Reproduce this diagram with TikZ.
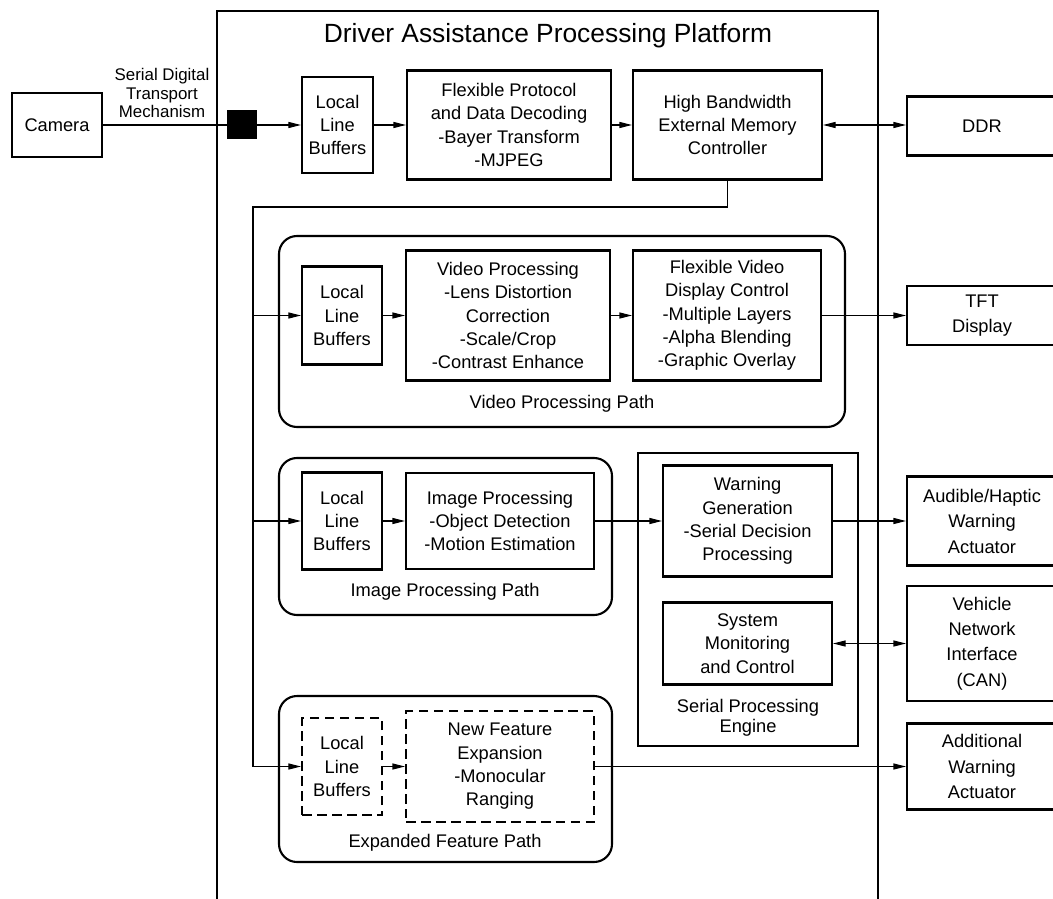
\documentclass[tikz,border=0pt]{standalone}
\usepackage{fontspec}
\setmainfont{Liberation Sans}
\usetikzlibrary{arrows.meta}

\begin{document}
\begin{tikzpicture}[x=0.02cm,y=-0.02cm,font=\fontsize{10.4}{13.3}\selectfont,
    blk/.style={draw,line width=1.2pt,align=center,inner sep=0pt},
    dblk/.style={blk,dash pattern=on 1.9mm off 1.1mm},
    grp/.style={draw,line width=1.2pt,rounded corners=3.6mm},
    outer/.style={font=\fontsize{10.4}{14.5}\selectfont},
    wire/.style={line width=0.6pt},
    flow/.style={wire,-{Triangle[length=2.5mm,width=1.2mm]}},
    both/.style={wire,{Triangle[length=2.5mm,width=1.2mm]}-{Triangle[length=2.5mm,width=1.2mm]}}]
    \clip (0,0) rectangle (1053,898);
    \useasboundingbox (0,0) rectangle (1053,898);
    % platform frame, open at the bottom
    \draw[line width=1.2pt] (217,905) -- (217,11) -- (878,11) -- (878,905);
    \node[font=\fontsize{15}{17}\selectfont] (title) at (548,36) {Driver Assistance Processing Platform};
    % processing paths
    \draw[grp] (279,236) rectangle (845,427);
    \node (vpp) at (562,404) {Video Processing Path};
    \draw[grp] (279,458) rectangle (612,615);
    \node (ipp) at (445,592) {Image Processing Path};
    \draw[grp] (279,696) rectangle (612,862);
    \node (efp) at (445,843) {Expanded Feature Path};
    \draw[line width=1.2pt] (638,453) rectangle (858,746);
    \node[align=center,font=\fontsize{10.4}{11.5}\selectfont] (spe) at (748,718) {Serial Processing\\Engine};
    % input row
    \node[blk,minimum width=18mm,minimum height=12.8mm] (cam) at (57,125) {Camera};
    \node[align=center,font=\fontsize{9.6}{10.5}\selectfont] (sdt) at (162,93) {Serial Digital\\Transport\\Mechanism};
    \node[fill=black,minimum width=6mm,minimum height=5.8mm,inner sep=0pt] (pin) at (242,125) {};
    \node[blk,minimum width=14.2mm,minimum height=19.2mm] (lbA) at (337.5,125) {Local\\Line\\Buffers};
    \node[blk,minimum width=40.8mm,minimum height=21.8mm] (fpd) at (509,125) {Flexible Protocol\\and Data Decoding\\-Bayer Transform\\-MJPEG};
    \node[blk,minimum width=37.8mm,minimum height=21.8mm] (hbm) at (727.5,125) {High Bandwidth\\External Memory\\Controller};
    \node[blk,minimum width=30mm,minimum height=11.8mm] (ddr) at (982,126) {DDR};
    % video row
    \node[blk,minimum width=16mm,minimum height=19.6mm] (lbB) at (342,315.5) {Local\\Line\\Buffers};
    \node[blk,minimum width=40.8mm,minimum height=26mm] (vpr) at (508,315.5) {Video Processing\\-Lens Distortion\\Correction\\-Scale/Crop\\-Contrast Enhance};
    \node[blk,minimum width=37.6mm,minimum height=26mm] (fvd) at (727,315.5) {Flexible Video\\Display Control\\-Multiple Layers\\-Alpha Blending\\-Graphic Overlay};
    \node[blk,outer,minimum width=30mm,minimum height=11.8mm] (tft) at (982,315.5) {TFT\\Display};
    % image row
    \node[blk,minimum width=16mm,minimum height=19.4mm] (lbC) at (342,521) {Local\\Line\\Buffers};
    \node[blk,minimum width=37.6mm,minimum height=19.2mm] (ipr) at (500,521) {Image Processing\\-Object Detection\\-Motion Estimation};
    \node[blk,minimum width=33.8mm,minimum height=22.2mm] (wgen) at (747.5,521) {Warning\\Generation\\-Serial Decision\\Processing};
    \node[blk,minimum width=33.8mm,minimum height=16.4mm] (smc) at (747.5,643.5) {System\\Monitoring\\and Control};
    \node[blk,outer,minimum width=30mm,minimum height=17.8mm] (aud) at (982,521) {Audible/Haptic\\Warning\\Actuator};
    \node[blk,outer,minimum width=30mm,minimum height=23mm] (veh) at (982,643.5) {Vehicle\\Network\\Interface\\(CAN)};
    % expansion row
    \node[dblk,minimum width=16mm,minimum height=19.4mm] (lbD) at (342,766.5) {Local\\Line\\Buffers};
    \node[dblk,minimum width=37.6mm,minimum height=22.2mm] (nfe) at (500,766.5) {New Feature\\Expansion\\-Monocular\\Ranging};
    \node[blk,outer,minimum width=30mm,minimum height=17.2mm] (add) at (982,766.5) {Additional\\Warning\\Actuator};
    % connectors
    \coordinate (busT) at (253,207);
    \draw[wire] (cam) -- (pin);
    \foreach \a/\b in {pin/lbA,lbA/fpd,fpd/hbm,lbB/vpr,vpr/fvd,fvd/tft,lbC/ipr,ipr/wgen,wgen/aud,lbD/nfe,nfe/add}
      {\draw[flow] (\a) -- (\b);}
    \draw[both] (hbm) -- (hbm -| ddr.west);
    \draw[both] (smc) -- (veh);
    \draw[flow] (hbm.south) |- (busT) |- (lbD);
    \foreach \n in {lbB,lbC}
      {\draw[flow] (busT |- \n) -- (\n);}
\end{tikzpicture}
\end{document}
